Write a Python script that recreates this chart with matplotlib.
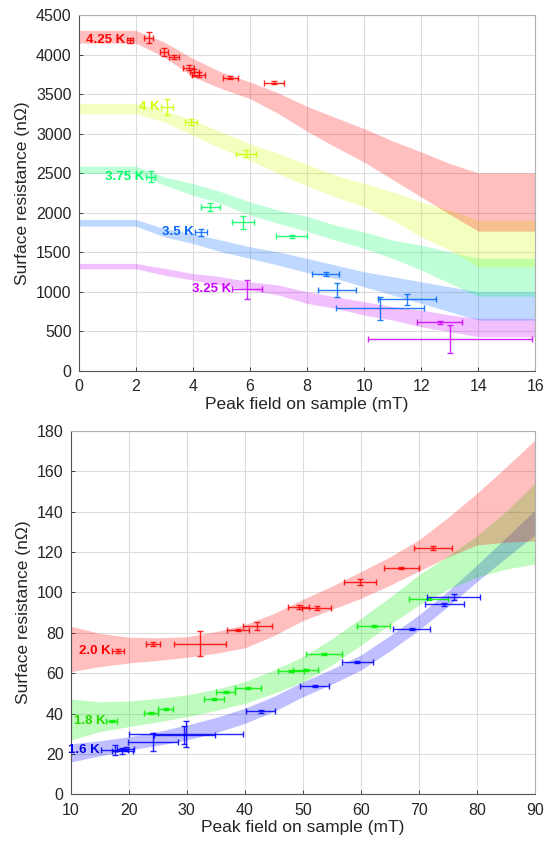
import matplotlib.pyplot as plt

plt.rcParams['font.family'] = ['Liberation Sans', 'DejaVu Sans']

# ---------- top panel: higher temperatures ----------
top_x = [0, 2, 3, 4, 5, 6, 7, 8, 9, 10, 11, 12, 13, 14, 16]

band_425_hi = [4306, 4306, 4158, 3950, 3779, 3653, 3514, 3345, 3203, 3064, 2908, 2769, 2622, 2504, 2504]
band_425_lo = [4145, 4145, 3968, 3720, 3569, 3443, 3253, 3030, 2830, 2640, 2420, 2200, 1980, 1768, 1768]
band_400_hi = [3380, 3380, 3295, 3169, 3022, 2875, 2748, 2610, 2475, 2370, 2264, 2138, 2033, 1907, 1907]
band_400_lo = [3253, 3253, 3148, 2980, 2811, 2664, 2496, 2340, 2201, 2075, 1907, 1696, 1528, 1317, 1317]
band_375_hi = [2588, 2588, 2453, 2370, 2264, 2138, 2033, 1955, 1843, 1759, 1654, 1591, 1506, 1423, 1423]
band_375_lo = [2496, 2496, 2348, 2222, 2117, 1970, 1865, 1765, 1654, 1549, 1423, 1275, 1107, 947, 947]
band_350_hi = [1915, 1915, 1801, 1738, 1654, 1570, 1506, 1423, 1338, 1254, 1191, 1128, 1064, 1001, 1001]
band_350_lo = [1831, 1831, 1696, 1612, 1506, 1423, 1338, 1244, 1170, 1064, 960, 855, 749, 644, 644]
band_325_hi = [1360, 1360, 1297, 1233, 1191, 1128, 1086, 1001, 938, 875, 812, 770, 707, 665, 665]
band_325_lo = [1292, 1292, 1212, 1149, 1086, 1023, 960, 855, 791, 707, 644, 559, 496, 433, 433]

pts_425_x = [1.79, 2.45, 2.99, 3.34, 3.85, 4.05, 4.2, 5.32, 6.86]
pts_425_y = [4179, 4213, 4032, 3968, 3834, 3775, 3745, 3708, 3645]
pts_425_xe = [0.1, 0.15, 0.15, 0.19, 0.18, 0.15, 0.22, 0.26, 0.35]
pts_425_ye = [30, 73, 50, 25, 35, 40, 30, 15, 15]

pts_400_x = [3.10, 3.94, 5.87]
pts_400_y = [3337, 3148, 2748]
pts_400_xe = [0.22, 0.22, 0.34]
pts_400_ye = [105, 40, 40]

pts_375_x = [2.52, 4.61, 5.75, 7.47]
pts_375_y = [2453, 2075, 1878, 1705]
pts_375_xe = [0.16, 0.33, 0.38, 0.54]
pts_375_ye = [70, 50, 80, 20]

pts_350_x = [4.29, 8.65, 9.05, 10.56, 11.50]
pts_350_y = [1751, 1221, 1023, 791, 905]
pts_350_xe = [0.22, 0.47, 0.68, 1.53, 1.0]
pts_350_ye = [40, 25, 85, 145, 65]

pts_325_x = [5.90, 12.64, 13.02]
pts_325_y = [1031, 615, 400]
pts_325_xe = [0.51, 0.78, 2.87]
pts_325_ye = [118, 20, 175]

# ---------- bottom panel: lower temperatures ----------
bot_x = [10, 15, 20, 25, 30, 35, 40, 45, 50, 55, 60, 65, 70, 75, 80, 85, 90]

band_20_hi = [83.3, 79.7, 77.8, 77.5, 78.0, 80.5, 84.0, 89.5, 96.5, 103.0, 110.2, 117.5, 126.0, 137.0, 149.0, 162.0, 175.4]
band_20_lo = [60.7, 63.2, 65.0, 66.3, 67.8, 69.8, 72.5, 78.5, 86.0, 91.5, 97.0, 103.5, 110.5, 117.5, 123.4, 124.8, 125.4]
band_18_hi = [47.2, 45.8, 46.2, 47.5, 49.2, 52.0, 55.7, 61.5, 68.1, 77.0, 87.1, 97.5, 108.6, 118.0, 128.0, 140.0, 154.0]
band_18_lo = [26.9, 31.0, 33.5, 35.8, 38.4, 41.5, 45.0, 50.0, 55.7, 64.0, 73.9, 84.0, 93.7, 101.5, 107.5, 111.5, 114.0]
band_16_hi = [25.0, 26.5, 28.5, 31.0, 34.3, 38.0, 42.6, 48.5, 55.7, 62.0, 69.0, 78.5, 88.8, 100.5, 113.5, 127.0, 140.7]
band_16_lo = [16.0, 19.0, 21.9, 24.2, 26.9, 30.5, 35.1, 41.0, 48.3, 54.5, 61.5, 71.0, 81.3, 93.0, 105.3, 117.0, 128.4]

pts_20_x = [18.22, 24.25, 32.24, 38.9, 42.2, 49.3, 52.4, 59.9, 67.0, 72.4]
pts_20_y = [70.9, 74.6, 74.6, 81.5, 83.3, 92.6, 92.2, 105.3, 111.9, 121.8]
pts_20_xe = [1.0, 1.2, 4.5, 1.9, 2.5, 1.8, 2.5, 2.8, 3.0, 3.3]
pts_20_ye = [1.0, 1.0, 6.0, 0.5, 2.0, 1.0, 1.0, 1.5, 0.5, 1.0]

pts_18_x = [17.07, 23.85, 26.4, 34.7, 36.7, 40.6, 48.0, 50.5, 53.6, 62.2, 71.7]
pts_18_y = [36.3, 40.1, 42.1, 47.2, 50.8, 52.5, 61.0, 61.3, 69.3, 83.5, 96.7]
pts_18_xe = [0.9, 1.2, 1.3, 1.8, 1.7, 2.2, 2.2, 2.2, 3.1, 2.9, 3.4]
pts_18_ye = [0.5, 0.5, 0.5, 0.5, 0.5, 0.5, 0.5, 0.5, 0.5, 0.5, 0.5]

pts_16_x = [17.6, 18.9, 19.5, 24.2, 29.6, 29.9, 42.8, 52.1, 59.4, 68.8, 74.4, 76.0]
pts_16_y = [22.0, 21.6, 22.5, 25.7, 29.5, 29.8, 41.2, 53.6, 65.5, 81.8, 94.0, 97.8]
pts_16_xe = [2.3, 1.8, 1.5, 4.3, 5.3, 9.8, 2.5, 2.5, 2.7, 3.2, 3.4, 4.6]
pts_16_ye = [2.5, 1.5, 1.0, 4.5, 4.5, 6.5, 0.7, 0.5, 0.5, 0.5, 0.7, 1.5]

top_labels = ['4.25 K', '4 K', '3.75 K', '3.5 K', '3.25 K']
bot_labels = ['2.0 K', '1.8 K', '1.6 K']

top_colors = [(1, 0, 0), (0.8, 1, 0), (0, 1, 0.4), (0, 0.4, 1), (0.8, 0, 1)]
bot_colors = [(1, 0, 0), (0, 0.95, 0), (0, 0, 1)]
bot_text_colors = [(1, 0, 0), (0.15, 0.85, 0), (0, 0, 0.9)]

top_bands = [(band_425_lo, band_425_hi), (band_400_lo, band_400_hi), (band_375_lo, band_375_hi),
             (band_350_lo, band_350_hi), (band_325_lo, band_325_hi)]
top_pts = [(pts_425_x, pts_425_y, pts_425_xe, pts_425_ye), (pts_400_x, pts_400_y, pts_400_xe, pts_400_ye),
           (pts_375_x, pts_375_y, pts_375_xe, pts_375_ye), (pts_350_x, pts_350_y, pts_350_xe, pts_350_ye),
           (pts_325_x, pts_325_y, pts_325_xe, pts_325_ye)]
bot_bands = [(band_20_lo, band_20_hi), (band_18_lo, band_18_hi), (band_16_lo, band_16_hi)]
bot_pts = [(pts_20_x, pts_20_y, pts_20_xe, pts_20_ye), (pts_18_x, pts_18_y, pts_18_xe, pts_18_ye),
           (pts_16_x, pts_16_y, pts_16_xe, pts_16_ye)]


def style_axes(ax):
    ax.grid(True, color='#dcdcdc', linewidth=0.8)
    ax.set_axisbelow(True)
    ax.tick_params(direction='in', length=3, labelsize=11.5, colors='#262626', width=0.6)
    ax.tick_params(axis='x', pad=6)
    ax.tick_params(axis='y', pad=5)
    for side in ['left', 'bottom']:
        ax.spines[side].set_color('#555555')
        ax.spines[side].set_linewidth(0.8)
    for side in ['top', 'right']:
        ax.spines[side].set_color('#b0b0b0')
        ax.spines[side].set_linewidth(0.8)
    ax.set_xlabel('Peak field on sample (mT)', fontsize=12.5, color='#262626', labelpad=2)
    ax.set_ylabel('Surface resistance (n\u03a9)', fontsize=12.5, color='#262626')


def draw_panel(ax, xs, bands, pts, colors, labels, text_colors):
    # bands back to front so the hottest sits on top
    for i in reversed(range(len(bands))):
        lo, hi = bands[i]
        ax.fill_between(xs, lo, hi, color=colors[i], alpha=0.25, linewidth=0)
    for i in range(len(pts)):
        x, y, xe, ye = pts[i]
        ax.errorbar(x, y, xerr=xe, yerr=ye, fmt='none', ecolor=colors[i],
                    elinewidth=1.0, capsize=2.5, capthick=1.0, alpha=0.85)
        ax.annotate(labels[i], (x[0] - xe[0], y[0]), xytext=(-1, 0), textcoords='offset points',
                    ha='right', va='center', fontsize=9.5, fontweight='bold', color=text_colors[i])


fig = plt.figure(figsize=(5.45, 8.47), dpi=100)

ax1 = fig.add_axes([0.1442, 0.5620, 0.8383, 0.4203])
draw_panel(ax1, top_x, top_bands, top_pts, top_colors, top_labels, top_colors)
ax1.set_xlim(0, 16)
ax1.set_ylim(0, 4500)
ax1.set_xticks(range(0, 17, 2))
ax1.set_yticks(range(0, 4501, 500))
style_axes(ax1)

ax2 = fig.add_axes([0.1295, 0.0622, 0.8521, 0.4293])
draw_panel(ax2, bot_x, bot_bands, bot_pts, bot_colors, bot_labels, bot_text_colors)
ax2.set_xlim(10, 90)
ax2.set_ylim(0, 180)
ax2.set_xticks(range(10, 91, 10))
ax2.set_yticks(range(0, 181, 20))
style_axes(ax2)

fig.savefig('out.png', dpi=100)
